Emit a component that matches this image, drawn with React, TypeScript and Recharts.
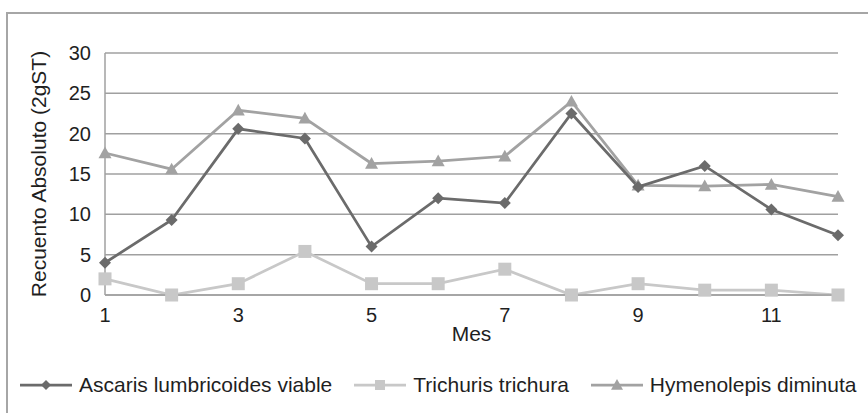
import React from 'react';
import { LineChart, Line, XAxis, YAxis, CartesianGrid, Legend } from 'recharts';

const months = [1, 2, 3, 4, 5, 6, 7, 8, 9, 10, 11, 12];
const ascaris = [4.0, 9.3, 20.6, 19.4, 6.0, 12.0, 11.4, 22.5, 13.4, 16.0, 10.6, 7.4];
const trichuris = [2.0, 0, 1.4, 5.4, 1.4, 1.4, 3.2, 0, 1.4, 0.6, 0.6, 0];
const hymenolepis = [17.6, 15.6, 22.9, 21.9, 16.3, 16.6, 17.2, 24.0, 13.6, 13.5, 13.7, 12.2];
const xTicks = [1, 3, 5, 7, 9, 11];
const yTicks = [0, 5, 10, 15, 20, 25, 30];
const seriesNames = ['Ascaris lumbricoides viable', 'Trichuris trichura', 'Hymenolepis diminuta'];

const data = months.map((m, i) => ({
  month: m,
  ascaris: ascaris[i],
  trichuris: trichuris[i],
  hymenolepis: hymenolepis[i],
}));

const FONT = '"Liberation Sans", Arial, sans-serif';
const C_ASC = '#6b6b6b';
const C_TRI = '#c8c8c8';
const C_HYM = '#a2a2a2';
const GRID = '#a0a0a0';
const TEXT = '#1f1f1f';

const Diamond = ({ cx, cy, color, s = 6 }: any) =>
  cx == null || cy == null ? null : (
    <path d={`M${cx},${cy - s} L${cx + s},${cy} L${cx},${cy + s} L${cx - s},${cy} Z`} fill={color} />
  );
const Square = ({ cx, cy, color, s = 6.5 }: any) =>
  cx == null || cy == null ? null : <rect x={cx - s} y={cy - s} width={2 * s} height={2 * s} fill={color} />;
const Triangle = ({ cx, cy, color, s = 6.5 }: any) =>
  cx == null || cy == null ? null : (
    <path d={`M${cx},${cy - s} L${cx + s},${cy + s * 0.8} L${cx - s},${cy + s * 0.8} Z`} fill={color} />
  );

const legendItems = [
  { name: seriesNames[0], color: C_ASC, Shape: Diamond },
  { name: seriesNames[1], color: C_TRI, Shape: Square },
  { name: seriesNames[2], color: C_HYM, Shape: Triangle },
];

const LegendContent = () => (
  <div style={{ display: 'flex', alignItems: 'center', fontFamily: FONT, fontSize: 21, color: TEXT, gap: 22 }}>
    {legendItems.map((it) => (
      <div key={it.name} style={{ display: 'flex', alignItems: 'center', whiteSpace: 'nowrap' }}>
        <svg width={52} height={20} style={{ marginRight: 7 }}>
          <line x1={0} y1={10} x2={52} y2={10} stroke={it.color} strokeWidth={2.75} />
          <it.Shape cx={26} cy={10} color={it.color} s={it.Shape === Triangle ? 6 : 5} />
        </svg>
        <span>{it.name}</span>
      </div>
    ))}
  </div>
);

const YLabel = ({ viewBox }: any) => {
  const x = viewBox.x + 38;
  const y = viewBox.y + viewBox.height / 2;
  return (
    <text
      x={x}
      y={y}
      transform={`rotate(-90, ${x}, ${y})`}
      textAnchor="middle"
      dominantBaseline="central"
      fontFamily={FONT}
      fontSize={21}
      fill={TEXT}
    >
      Recuento Absoluto (2gST)
    </text>
  );
};

const XLabel = ({ viewBox }: any) => {
  const x = viewBox.x + viewBox.width / 2;
  const y = viewBox.y + 46;
  return (
    <text x={x} y={y} textAnchor="middle" fontFamily={FONT} fontSize={21} fill={TEXT}>
      Mes
    </text>
  );
};

export default function App() {
  return (
    <div style={{ position: 'absolute', left: 0, top: 0, width: 868, height: 413, overflow: 'hidden', background: '#fff' }}>
      <div
        style={{
          position: 'absolute',
          left: 6,
          top: 12,
          width: 950,
          height: 500,
          border: '2px solid #a6a6a6',
          boxSizing: 'border-box',
        }}
      />
      <div style={{ position: 'absolute', left: 0, top: 0 }}>
        <LineChart width={868} height={413} data={data} margin={{ top: 53, right: 30, bottom: 0, left: 0 }}>
          <CartesianGrid vertical={false} stroke={GRID} strokeWidth={1.5} />
          <XAxis
            dataKey="month"
            type="number"
            domain={[1, 12]}
            ticks={xTicks}
            height={118}
            tickSize={0}
            tickMargin={13}
            axisLine={{ stroke: GRID, strokeWidth: 1.5 }}
            tick={{ fontFamily: FONT, fontSize: 20, fill: TEXT }}
            label={<XLabel />}
          />
          <YAxis
            domain={[0, 30]}
            ticks={yTicks}
            width={105}
            tickSize={0}
            tickMargin={14}
            axisLine={{ stroke: GRID, strokeWidth: 1.5 }}
            tick={{ fontFamily: FONT, fontSize: 20, fill: TEXT }}
            label={<YLabel />}
          />
          <Legend
            verticalAlign="middle"
            layout="horizontal"
            content={<LegendContent />}
            wrapperStyle={{ position: 'absolute', top: 373, left: 20, width: 'auto' }}
          />
          <Line
            dataKey="hymenolepis"
            stroke={C_HYM}
            strokeWidth={2.75}
            isAnimationActive={false}
            dot={(p: any) => <Triangle key={`h${p.index}`} cx={p.cx} cy={p.cy} color={C_HYM} />}
            activeDot={false}
          />
          <Line
            dataKey="trichuris"
            stroke={C_TRI}
            strokeWidth={2.75}
            isAnimationActive={false}
            dot={(p: any) => <Square key={`t${p.index}`} cx={p.cx} cy={p.cy} color={C_TRI} />}
            activeDot={false}
          />
          <Line
            dataKey="ascaris"
            stroke={C_ASC}
            strokeWidth={2.75}
            isAnimationActive={false}
            dot={(p: any) => <Diamond key={`a${p.index}`} cx={p.cx} cy={p.cy} color={C_ASC} />}
            activeDot={false}
          />
        </LineChart>
      </div>
    </div>
  );
}
